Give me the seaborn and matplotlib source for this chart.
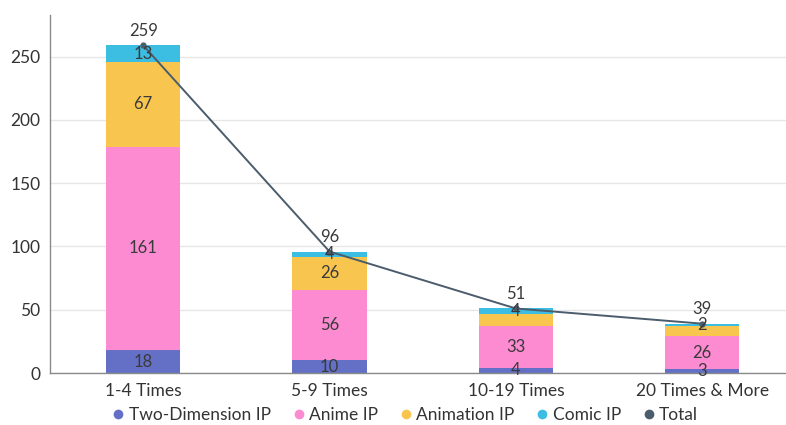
import matplotlib
matplotlib.use("Agg")
import matplotlib.pyplot as plt
from matplotlib.lines import Line2D
import numpy as np
import pandas as pd
import seaborn as sns

categories = ["1-4 Times", "5-9 Times", "10-19 Times", "20 Times & More"]
two_dimension = [18, 10, 4, 3]
anime = [161, 56, 33, 26]
animation = [67, 26, 10, 8]
comic = [13, 4, 4, 2]
totals = [259, 96, 51, 39]

series_names = ["Two-Dimension IP", "Anime IP", "Animation IP", "Comic IP"]
series_values = [two_dimension, anime, animation, comic]
colors = ["#6470c6", "#fc8bd2", "#f8c64f", "#3cbde2"]
total_color = "#4b5c6c"
# segment labels that are left off because they would collide with others
hidden_labels = {(2, 2), (2, 3)}

sns.set_theme(style="white")
plt.rcParams["font.family"] = ["Lato", "DejaVu Sans"]

fig = plt.figure(figsize=(7.86, 4.25), dpi=100)
ax = fig.add_axes([50 / 786, 52 / 425, 736 / 786, 358 / 425])

df = pd.DataFrame({"category": categories})
stack = np.zeros(len(categories))
cum = []
for vals in series_values:
    stack = stack + np.array(vals)
    cum.append(stack.copy())

# draw cumulative heights from the top layer down so each layer covers the next
for i in range(len(series_values) - 1, -1, -1):
    d = df.assign(height=cum[i])
    sns.barplot(data=d, x="category", y="height", order=categories,
                color=colors[i], saturation=1, width=0.4, ax=ax, zorder=2,
                linewidth=0, edgecolor="none")

# segment value labels
for si, vals in enumerate(series_values):
    base = cum[si] - np.array(vals)
    for ci, v in enumerate(vals):
        if (si, ci) in hidden_labels:
            continue
        ax.text(ci, base[ci] + v / 2, str(v), ha="center", va="center",
                fontsize=12, color="#3a3a3a", zorder=5)

# total line
sns.lineplot(x=np.arange(len(categories)), y=totals, ax=ax, color=total_color,
             linewidth=1.4, marker="o", markersize=4.5, markeredgewidth=0,
             zorder=4)
for ci, t in enumerate(totals):
    ax.text(ci, t + 5, str(t), ha="center", va="bottom", fontsize=12,
            color="#3a3a3a", zorder=5)

ax.set_xlim(-0.5, 3.45)
ax.set_ylim(0, 283)
ax.set_yticks([0, 50, 100, 150, 200, 250])
ax.yaxis.grid(True, color="#e6e6e6", linewidth=1, zorder=0)
ax.set_axisbelow(True)
ax.set_xlabel("")
ax.set_ylabel("")
for s in ["top", "right"]:
    ax.spines[s].set_visible(False)
for s in ["left", "bottom"]:
    ax.spines[s].set_color("#8a8a8a")
    ax.spines[s].set_linewidth(1)
ax.tick_params(axis="both", labelsize=12.5, colors="#333333", length=4,
               width=1, color="#8a8a8a", pad=3)

handles = [Line2D([0], [0], marker="o", linestyle="", markersize=7,
                  markerfacecolor=c, markeredgewidth=0) for c in colors + [total_color]]
fig.legend(handles, series_names + ["Total"], loc="center",
           bbox_to_anchor=(0.515, 0.024), ncol=5, frameon=False, fontsize=12.5,
           handlelength=0.8, handletextpad=0.2, columnspacing=1.2,
           labelcolor="#333333")

fig.savefig("out.png", dpi=100)
